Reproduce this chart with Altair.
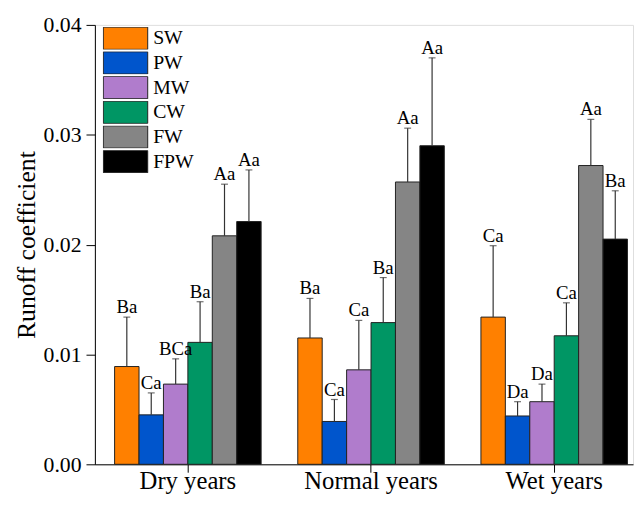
import altair as alt
import pandas as pd

years = ["Dry years", "Normal years", "Wet years"]
treatments = ["SW", "PW", "MW", "CW", "FW", "FPW"]
colors = ["#FF8000", "#0055CC", "#B07CCC", "#009664", "#858585", "#000000"]

dry_mean = [0.0089, 0.0045, 0.0073, 0.0111, 0.0208, 0.0221]
normal_mean = [0.0115, 0.0039, 0.0086, 0.0129, 0.0257, 0.0290]
wet_mean = [0.0134, 0.0044, 0.0057, 0.0117, 0.0272, 0.0205]

dry_err = [0.0045, 0.0020, 0.0023, 0.0037, 0.0047, 0.0047]
normal_err = [0.0036, 0.0020, 0.0045, 0.0041, 0.0049, 0.0080]
wet_err = [0.0065, 0.0013, 0.0016, 0.0030, 0.0042, 0.0044]

dry_lab = ["Ba", "Ca", "BCa", "Ba", "Aa", "Aa"]
normal_lab = ["Ba", "Ca", "Ca", "Ba", "Aa", "Aa"]
wet_lab = ["Ca", "Da", "Da", "Ca", "Aa", "Ba"]

rows = []
for yr, means, errs, labs in zip(
    years,
    [dry_mean, normal_mean, wet_mean],
    [dry_err, normal_err, wet_err],
    [dry_lab, normal_lab, wet_lab],
):
    for t, m, e, l in zip(treatments, means, errs, labs):
        rows.append({"year": yr, "treatment": t, "mean": m, "top": m + e, "label": l})
df = pd.DataFrame(rows)

FONT = "Liberation Serif"

x = alt.X(
    "year:N",
    sort=years,
    scale=alt.Scale(paddingInner=0.2, paddingOuter=0.069, align=0.78),
    axis=alt.Axis(
        title=None, labelAngle=0, tickSize=8, labelFontSize=25, labelPadding=-3,
        domainColor="black", tickColor="black", labelColor="black", labelFont=FONT,
    ),
)
xo = alt.XOffset("treatment:N", sort=treatments, scale=alt.Scale(paddingInner=0, paddingOuter=0))
yscale = alt.Scale(domain=[0, 0.04], nice=False, zero=True)

bars = alt.Chart(df).mark_bar(stroke="#222222", strokeWidth=1).encode(
    x=x,
    xOffset=xo,
    y=alt.Y(
        "mean:Q",
        scale=yscale,
        axis=alt.Axis(
            values=[0, 0.01, 0.02, 0.03, 0.04], format=".2f", tickSize=9, grid=False,
            title="Runoff coefficient", titleFontSize=26, titleFont=FONT, titleFontWeight="normal",
            titleColor="black", titlePadding=4,
            labelFontSize=22, labelFont=FONT, labelColor="black", labelPadding=5,
            domainColor="black", tickColor="black",
        ),
    ),
    color=alt.Color(
        "treatment:N",
        sort=treatments,
        scale=alt.Scale(domain=treatments, range=colors),
        legend=alt.Legend(
            title=None, orient="none", legendX=8, legendY=2,
            symbolType="M-1,-0.5H1V0.5H-1Z", symbolSize=2025,
            symbolStrokeColor="#222222", symbolStrokeWidth=1,
            labelFont=FONT, labelFontSize=20, labelColor="black", labelOffset=5,
            clipHeight=23, rowPadding=2,
        ),
    ),
)

rules = alt.Chart(df).mark_rule(color="#333333", strokeWidth=1.2).encode(
    x=x, xOffset=xo, y=alt.Y("mean:Q", scale=yscale), y2="top:Q"
)
caps = alt.Chart(df).mark_tick(color="#333333", thickness=1.2, size=7).encode(
    x=x, xOffset=xo, y=alt.Y("top:Q", scale=yscale)
)
texts = alt.Chart(df).mark_text(
    baseline="alphabetic", dy=-4, font=FONT, fontSize=19, color="black"
).encode(x=x, xOffset=xo, y=alt.Y("top:Q", scale=yscale), text="label:N")

chart = (
    alt.layer(bars, rules, caps, texts)
    .properties(
        width=545, height=445,
        autosize=alt.AutoSizeParams(type="none"),
        padding={"left": 88, "top": 14, "right": 2, "bottom": 31},
    )
    .configure_view(stroke=None)
    .configure(background="white")
)

chart.save("out.html", embed_options={"renderer": "svg", "actions": False})
